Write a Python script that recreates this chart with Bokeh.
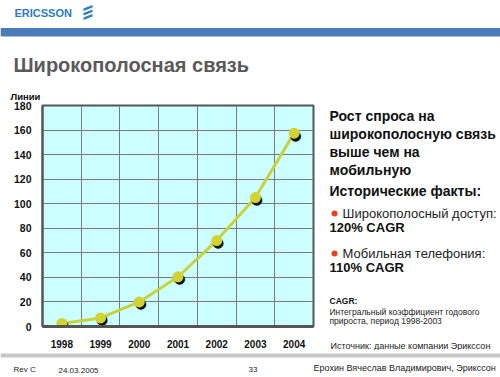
from bokeh.plotting import figure, ColumnDataSource
from bokeh.models import Range1d, FixedTicker
from bokeh.layouts import column, row
from bokeh.core.properties import value
from bokeh.embed import file_html
from bokeh.resources import INLINE

# ---- data ----
years = [1998, 1999, 2000, 2001, 2002, 2003, 2004]
lines_mln = [2.5, 7, 20, 40.5, 70, 105, 157.5]
y_ticks = [0, 20, 40, 60, 80, 100, 120, 140, 160, 180]
y_label = "Линии"
title_text = "Широкополосная связь"
headline = ["Рост спроса на", "широкополосную связь", "выше чем на", "мобильную"]
facts_title = "Исторические факты:"
facts = [("Широкополосный доступ:", "120% CAGR"), ("Мобильная телефония:", "110% CAGR")]
note_title = "CAGR:"
note_lines = ["Интегральный коэффициент годового", "прироста, период 1998-2003"]
source_text = "Источник: данные компании Эрикссон"
footer = ["Rev C", "24.03.2005", "33", "Ерохин Вячеслав Владимирович, Эрикссон"]

FONT = "Liberation Sans"
W = 500
HEAD_H = 80
MID_H = 270
FOOT_H = 27
CHART_W = 315
FL, FR, FT, FB = 42, 313, 105, 328   # frame on the page
BT = FT - HEAD_H                      # border above frame inside mid row
BB = HEAD_H + MID_H - FB              # border below frame inside mid row


def canvas_fig(w, h, x0=0, y0=0):
    f = figure(width=w, height=h, output_backend="svg", toolbar_location=None,
               x_range=Range1d(x0, x0 + w), y_range=Range1d(y0 + h, y0),
               x_axis_location=None, y_axis_location=None, min_border=0)
    f.title.visible = False
    f.xgrid.visible = False
    f.ygrid.visible = False
    f.outline_line_color = None
    f.background_fill_color = "white"
    f.border_fill_color = "white"
    return f


def txt(f, t, x, y, size, bold=False, color="#111111", align="left"):
    f.text(x=[x], y=[y], text=[t], text_font=value(FONT), text_font_size=f"{size}px",
           text_font_style="bold" if bold else "normal", text_color=color,
           text_align=align, text_baseline="middle")


# ---- header ----
head = canvas_fig(W, HEAD_H)
head.quad(left=[0], right=[W], top=[27.5], bottom=[36], fill_color="#4a7db8",
          line_color=None)
txt(head, "ERICSSON", 14, 12.5, 11, bold=True, color="#2f7cc0")
for yc in (7.5, 12, 16.5):
    head.patch(x=[83, 92, 92, 83], y=[yc + 0.5, yc - 3, yc - 0.5, yc + 3],
               fill_color="#2f7cc0", line_color=None)
txt(head, title_text, 13, 64, 20, bold=True, color="#5a5a5a")

# ---- chart ----
p = figure(width=CHART_W, height=MID_H, output_backend="svg", toolbar_location=None,
           x_range=Range1d(1997.5, 2004.5), y_range=Range1d(0, 180),
           min_border_left=FL, min_border_right=CHART_W - FR,
           min_border_top=BT, min_border_bottom=BB)
p.title.text = y_label
p.title.text_font = FONT
p.title.text_font_size = "9.5px"
p.title.text_font_style = "bold"
p.title.text_color = "#111111"
p.title.align = "left"
p.title.offset = -32
p.title.standoff = 7
p.background_fill_color = "#ccffff"
p.border_fill_color = "white"
p.outline_line_color = "#555555"
p.outline_line_width = 2

p.xaxis.ticker = FixedTicker(ticks=years)
p.yaxis.ticker = FixedTicker(ticks=y_ticks)
for ax in (p.xaxis[0], p.yaxis[0]):
    ax.major_tick_line_color = None
    ax.minor_tick_line_color = None
    ax.major_label_text_font = FONT
    ax.major_label_text_font_style = "bold"
    ax.major_label_text_color = "#111111"
p.xaxis.major_label_text_font_size = "10px"
p.yaxis.major_label_text_font_size = "10.5px"
p.xaxis.axis_line_color = "#555555"
p.xaxis.axis_line_width = 3
p.yaxis.axis_line_color = "#555555"
p.yaxis.axis_line_width = 2
p.xaxis.major_label_standoff = 7
p.yaxis.major_label_standoff = 5

p.xgrid.ticker = FixedTicker(ticks=[y + 0.5 for y in years[:-1]])
p.ygrid.ticker = FixedTicker(ticks=y_ticks)
for g in (p.xgrid[0], p.ygrid[0]):
    g.grid_line_color = "#7a7a7a"
    g.grid_line_width = 1
    g.grid_line_alpha = 1

src = ColumnDataSource(dict(x=years, y=lines_mln, dot=["●"] * len(years)))
p.line("x", "y", source=src, line_color="#c8d23c", line_width=3)
p.text("x", "y", text="dot", source=src, text_font=value("DejaVu Sans"),
       text_font_size="14px", text_color="#111111", text_align="center",
       text_baseline="middle", x_offset=1.5, y_offset=1.5)
p.scatter("x", "y", source=src, size=11, fill_color="#d2d232", line_color=None)

# ---- right side text (page coordinates) ----
side = canvas_fig(W - CHART_W, MID_H, x0=CHART_W, y0=HEAD_H)
for i, t in enumerate(headline):
    txt(side, t, 329, 115 + 18 * i, 14, bold=True)
txt(side, facts_title, 329, 190, 14, bold=True)
for i, (a, b) in enumerate(facts):
    y0 = 213 + 40 * i
    side.scatter(x=[334], y=[y0], size=6, fill_color="#e8401c", line_color=None)
    txt(side, a, 342, y0, 13, color="#222222")
    txt(side, b, 329, y0 + 14, 13, bold=True)
txt(side, note_title, 329, 300, 8.5, bold=True)
for i, t in enumerate(note_lines):
    txt(side, t, 329, 311 + 9.5 * i, 8.5, color="#222222")
txt(side, source_text, 330, 345, 9, color="#222222")

# ---- footer ----
FY = HEAD_H + MID_H
foot = canvas_fig(W, FOOT_H, y0=FY)
foot.quad(left=[0], right=[W], top=[353], bottom=[357], fill_color="#c8c8c8",
          line_color=None)
txt(foot, footer[0], 13, 369, 8, color="#222222")
txt(foot, footer[1], 58, 370, 8, color="#222222")
txt(foot, footer[2], 248, 369, 8, color="#222222")
txt(foot, footer[3], 313, 367, 9, color="#222222")

layout = column(head, row(p, column(side, spacing=0), spacing=0), foot, spacing=0)
open("out.html", "w").write(file_html(layout, INLINE))
